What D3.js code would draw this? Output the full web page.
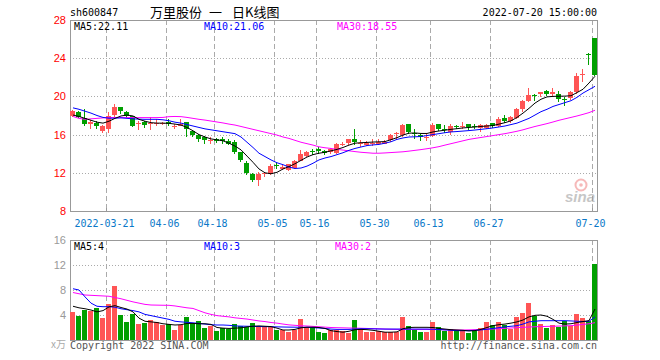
<!DOCTYPE html>
<html><head><meta charset="utf-8">
<script src="https://cdn.jsdelivr.net/npm/d3@7"></script>
<style>body{margin:0;background:#fff}svg{display:block}</style>
</head><body><svg id="c" width="660" height="360"></svg>
<script>
// ---------------- data ----------------
const dates = ["03-11","03-14","03-15","03-16","03-17","03-18","03-21","03-22","03-23","03-24","03-25","03-28","03-29","03-30","03-31",
"04-01","04-06","04-07","04-08","04-11","04-12","04-13","04-14","04-15","04-18","04-19","04-20","04-21","04-22","04-25","04-26","04-27","04-28","04-29",
"05-05","05-06","05-09","05-10","05-11","05-12","05-13","05-16","05-17","05-18","05-19","05-20","05-23","05-24","05-25","05-26","05-27","05-30","05-31",
"06-01","06-02","06-06","06-07","06-08","06-09","06-10","06-13","06-14","06-15","06-16","06-17","06-20","06-21","06-22","06-23","06-24","06-27","06-28","06-29","06-30",
"07-01","07-04","07-05","07-06","07-07","07-08","07-11","07-12","07-13","07-14","07-15","07-18","07-19","07-20"];
const open  = [18.0,18.4,17.7,17.1,17.2,16.4,16.6,18.1,18.9,18.4,17.9,17.1,17.3,17.15,17.1,17.2,17.3,16.8,16.9,17.3,16.4,15.95,15.7,15.35,15.5,15.5,15.3,15.2,14.15,13.0,11.85,11.25,11.85,11.85,12.85,12.4,12.3,12.55,13.25,13.8,14.25,14.45,14.3,14.2,14.1,15.0,15.15,15.5,15.0,14.9,15.1,15.05,15.05,15.4,16.15,15.95,17.1,16.15,15.95,15.75,15.9,17.1,16.55,16.3,16.85,16.85,17.1,16.85,16.65,16.7,17.2,16.9,17.7,17.45,17.7,18.7,19.55,20.15,20.2,20.55,20.2,20.25,19.75,19.8,20.45,22.25,24.45,26.15];
const close = [18.5,17.8,17.1,17.3,16.85,16.9,17.95,18.9,18.5,17.9,16.9,17.2,17.0,17.25,17.2,17.25,17.1,16.95,17.1,16.6,16.0,15.55,15.4,15.45,15.3,15.3,15.05,14.2,13.35,11.95,11.2,11.9,11.95,12.75,12.7,12.6,12.9,13.25,13.95,14.2,14.15,14.25,14.1,14.5,15.0,15.05,15.5,15.2,15.1,15.15,15.15,15.25,15.25,15.95,16.2,17.0,16.3,16.05,15.7,15.8,17.05,16.55,16.45,16.9,16.75,16.95,16.75,16.8,17.0,17.0,16.9,17.6,17.4,17.8,18.7,19.55,20.15,20.1,20.5,20.25,20.45,19.7,19.7,20.5,22.1,22.3,24.4,22.2];
const high  = [18.6,18.5,18.7,17.5,17.4,17.0,18.4,19.2,18.9,18.5,17.95,17.4,17.4,17.8,17.6,17.35,17.6,17.1,17.6,17.35,16.5,16.05,15.9,15.8,15.6,15.7,15.5,15.4,14.2,13.2,12.0,12.1,12.1,12.9,13.0,12.8,12.95,13.3,14.4,14.3,14.5,14.7,14.4,14.6,15.15,15.25,15.5,16.55,15.4,15.3,15.5,15.5,15.4,16.1,16.25,17.15,17.15,16.55,16.1,16.05,17.25,17.1,17.0,17.1,17.0,17.35,17.15,17.1,17.15,17.15,17.25,17.8,18.05,17.9,18.8,19.65,20.85,20.2,20.5,20.7,20.85,20.55,19.9,20.6,22.45,22.9,24.5,26.15];
const low   = [17.8,17.7,16.9,16.6,16.6,16.2,16.2,17.85,18.2,17.7,16.8,16.5,16.7,16.5,16.9,17.05,16.9,16.6,16.85,15.8,15.7,15.2,15.0,15.0,15.1,15.0,14.9,13.95,13.1,11.8,11.0,10.65,11.6,11.8,12.4,12.25,12.2,12.4,13.2,13.7,13.9,13.95,13.9,14.0,13.95,14.8,14.9,14.95,14.7,14.8,14.8,14.95,15.0,15.25,15.5,15.8,16.05,15.5,15.3,15.35,15.75,16.4,16.2,16.0,16.55,16.6,16.5,16.55,16.3,16.6,16.65,16.8,17.25,17.25,17.6,18.4,19.45,19.55,19.9,20.05,20.05,19.45,18.95,19.65,20.3,21.5,23.3,22.1];
const volume = [4.48,3.9,4.8,4.64,5.17,3.52,5.76,8.64,4.0,2.88,4.16,2.56,2.72,3.2,2.93,2.45,2.56,1.6,2.4,3.68,2.5,3.04,1.92,2.24,1.44,1.87,1.81,2.56,2.19,2.03,2.72,2.13,2.13,2.13,1.6,1.65,1.33,1.55,3.36,2.08,2.08,1.33,1.17,1.6,1.55,1.44,1.17,3.2,1.7,1.33,1.33,1.44,1.23,1.33,1.33,3.68,2.24,1.6,1.28,1.28,2.88,2.08,1.44,1.71,1.44,1.49,1.17,1.44,1.92,2.88,2.4,2.88,2.45,1.71,3.68,4.32,5.92,3.84,2.56,1.92,2.4,2.08,3.04,2.29,4.16,3.52,3.09,12.16];
const ma5  = [18.05,17.9,17.7,17.5,17.3,17.2,17.4,17.7,17.95,18.05,17.95,17.6,17.4,17.25,17.2,17.2,17.18,17.1,17.0,16.75,16.4,16.0,15.75,15.55,15.45,15.35,15.1,14.8,14.4,13.75,13.1,12.4,12.0,11.9,12.05,12.4,12.65,12.95,13.3,13.65,13.9,14.05,14.15,14.3,14.45,14.65,14.9,15.1,15.15,15.18,15.22,15.24,15.27,15.47,15.68,15.95,16.15,16.17,16.12,16.12,16.28,16.38,16.46,16.55,16.62,16.7,16.75,16.8,16.85,16.9,16.95,17.1,17.25,17.44,17.8,18.25,18.75,19.3,19.7,19.95,20.0,20.02,20.03,20.07,20.4,20.75,21.4,22.11];
const ma10 = [18.8,18.65,18.45,18.25,18.0,17.8,17.72,17.72,17.75,17.7,17.65,17.62,17.6,17.6,17.6,17.55,17.45,17.3,17.2,17.05,16.9,16.75,16.6,16.5,16.4,16.3,16.2,16.1,15.75,15.2,14.65,14.05,13.7,13.35,13.05,12.85,12.6,12.45,12.5,12.7,13.0,13.35,13.55,13.7,13.9,14.1,14.35,14.55,14.7,14.85,14.92,14.97,15.1,15.25,15.5,15.65,15.75,15.77,15.8,15.9,16.0,16.1,16.2,16.28,16.32,16.37,16.42,16.48,16.55,16.62,16.7,16.8,16.9,17.05,17.2,17.45,17.7,18.05,18.4,18.65,18.95,19.15,19.35,19.55,19.9,20.35,20.7,21.06];
const ma30 = [17.9,17.7,17.6,17.65,17.7,17.75,17.78,17.78,17.78,17.78,17.78,17.78,17.78,17.78,17.78,17.8,17.88,17.9,17.88,17.8,17.7,17.6,17.52,17.42,17.32,17.22,17.1,17.0,16.85,16.7,16.55,16.4,16.25,16.1,15.95,15.75,15.6,15.4,15.2,15.05,14.9,14.72,14.62,14.55,14.45,14.38,14.3,14.22,14.15,14.1,14.05,14.05,14.08,14.12,14.16,14.2,14.27,14.35,14.43,14.52,14.62,14.74,14.9,15.05,15.2,15.35,15.5,15.6,15.7,15.8,15.9,16.0,16.1,16.22,16.35,16.5,16.68,16.85,17.0,17.15,17.32,17.5,17.65,17.8,17.95,18.12,18.3,18.55];
const vma5  = [5.4,5.15,5.0,4.8,4.5,4.7,5.3,5.5,5.2,4.95,4.5,3.5,3.0,2.9,2.8,2.6,2.5,2.4,2.45,2.65,2.65,2.6,2.6,2.5,2.0,1.9,1.85,1.9,1.95,2.1,2.2,2.25,2.2,2.15,1.9,1.6,1.6,1.7,1.95,2.05,2.05,2.0,1.85,1.5,1.35,1.25,1.4,1.65,1.7,1.65,1.55,1.4,1.25,1.25,1.3,1.8,2.0,2.03,2.03,2.03,2.0,1.85,1.75,1.65,1.6,1.55,1.45,1.5,1.7,2.0,2.3,2.45,2.55,2.7,2.9,3.2,3.7,3.95,4.0,3.8,3.3,2.7,2.55,2.6,2.8,2.95,3.1,4.96];
const vma10 = [8.2,8.0,6.9,5.9,5.4,5.33,5.33,5.25,5.0,4.85,4.7,4.5,4.1,3.9,3.7,3.5,3.3,3.0,2.9,2.83,2.75,2.65,2.55,2.45,2.4,2.4,2.35,2.25,2.22,2.2,2.18,2.16,2.14,2.13,2.1,2.08,2.06,2.05,2.04,2.03,1.98,1.92,1.85,1.75,1.7,1.7,1.7,1.75,1.8,1.8,1.78,1.76,1.75,1.75,1.75,1.75,1.75,1.75,1.75,1.75,1.72,1.68,1.62,1.56,1.5,1.49,1.5,1.55,1.62,1.72,1.85,1.97,2.1,2.2,2.29,2.55,2.9,3.0,3.09,3.09,3.09,3.09,3.09,3.05,3.0,2.95,3.0,3.68];
const vma30 = [7.6,7.4,7.2,7.15,7.1,7.05,7.0,6.8,6.6,6.35,6.1,5.9,5.7,5.6,5.58,5.56,5.55,5.45,5.3,5.15,5.05,4.7,4.35,4.1,3.9,3.8,3.7,3.55,3.45,3.35,3.2,3.05,2.95,2.8,2.7,2.55,2.42,2.35,2.28,2.24,2.18,2.12,2.06,2.0,1.97,1.95,1.92,1.9,1.88,1.85,1.82,1.79,1.75,1.72,1.7,1.7,1.7,1.7,1.7,1.7,1.68,1.66,1.64,1.62,1.6,1.6,1.62,1.65,1.68,1.72,1.76,1.8,1.86,1.92,1.98,2.03,2.08,2.12,2.15,2.18,2.2,2.23,2.26,2.3,2.38,2.5,2.6,2.77];
const tickDates  = ["03-21","04-06","04-18","05-05","05-16","05-30","06-13","06-27","07-20"];
const tickLabels = ["2022-03-21","04-06","04-18","05-05","05-16","05-30","06-13","06-27","07-20"];
const priceTicks = [8,12,16,20,24,28];
const priceGrid  = [12,16,20,24];
const volTicks   = [4,8,12,16];
const volGrid    = [4,8,12];
const titleParts = ["万里股份", "一", "日K线图"];

// ---------------- drawing ----------------
const svg = d3.select("#c");
const L = 70, R = 597, PT = 20, PB = 211, VT = 240, VB = 340;
const RED = "#ff5555", GREEN = "#009f00";
const mono = "'DejaVu Sans Mono', monospace";
const sans = "'Liberation Sans', Arial, sans-serif";
const cjk = "'Noto Sans CJK SC', sans-serif";

const x = d3.scaleBand().domain(dates).range([L, R + 1]).paddingInner(1/6).paddingOuter(1/12);
const yP = d3.scaleLinear().domain([8, 28]).range([PB, PT]);
const yV = d3.scaleLinear().domain([0, 16]).range([VB, VT]);
const px = d => Math.floor(x(d));
const color = i => close[i] >= open[i] ? RED : GREEN;
const idx = d3.range(dates.length);

// header
svg.append("text").attr("x", L).attr("y", 16).attr("font-family", mono).attr("font-size", 10).attr("fill", "#000").text("sh600847");
[150, 209, 232].forEach((xx, k) => svg.append("text").attr("x", xx).attr("y", 17).attr("font-family", cjk)
  .attr("font-size", 13).attr("fill", "#000").text(titleParts[k]));
svg.append("text").attr("x", R).attr("y", 16).attr("text-anchor", "end").attr("font-family", mono).attr("font-size", 10).attr("fill", "#000").text("2022-07-20 15:00:00");

function panel(top, bottom, yScale, grid) {
  const g = svg.append("g").attr("shape-rendering", "crispEdges");
  g.selectAll(".hg").data(grid).join("line")
    .attr("x1", L).attr("x2", R).attr("y1", d => Math.round(yScale(d)) + 0.5).attr("y2", d => Math.round(yScale(d)) + 0.5)
    .attr("stroke", "#aaa").attr("stroke-dasharray", "1,2");
  g.selectAll(".vg").data(tickDates).join("line")
    .attr("x1", d => px(d) + 0.5).attr("x2", d => px(d) + 0.5).attr("y1", top).attr("y2", bottom)
    .attr("stroke", "#aaa").attr("stroke-dasharray", "5,3");
  g.append("rect").attr("x", L + 0.5).attr("y", top + 0.5).attr("width", R - L).attr("height", bottom - top)
    .attr("fill", "none").attr("stroke", "#999");
}
panel(PT, PB, yP, priceGrid);
panel(VT, VB, yV, volGrid);

// price y axis
const ay = svg.append("g").attr("transform", `translate(${L},0)`)
  .call(d3.axisLeft(yP).tickValues(priceTicks).tickSize(0).tickPadding(4).tickFormat(d3.format("d")));
ay.select(".domain").remove();
ay.selectAll("text").attr("fill", "#ff0000").attr("font-family", sans).attr("font-size", 11);

// volume y axis
const av = svg.append("g").attr("transform", `translate(${L},0)`)
  .call(d3.axisLeft(yV).tickValues(volTicks).tickSize(0).tickPadding(4).tickFormat(d3.format("d")));
av.select(".domain").remove();
av.selectAll("text").attr("fill", "#999").attr("font-family", sans).attr("font-size", 11);
svg.append("text").attr("x", 66).attr("y", 348).attr("text-anchor", "end").attr("font-family", cjk)
  .attr("font-size", 10).attr("fill", "#aaa").text("x万");

// x axis
const ax = svg.append("g").attr("transform", `translate(0,${PB})`)
  .call(d3.axisBottom(x).tickValues(tickDates).tickSize(-3).tickPadding(9)
    .tickFormat((d, i) => tickLabels[i]));
ax.select(".domain").remove();
ax.selectAll(".tick").attr("transform", d => `translate(${px(d) + 0.5},0)`);
ax.selectAll("line").attr("stroke", "#999").attr("shape-rendering", "crispEdges");
ax.selectAll("text").attr("fill", "#0a78c8").attr("font-family", mono).attr("font-size", 10).attr("dx", -2);

// candles
const cg = svg.append("g").attr("shape-rendering", "crispEdges");
cg.selectAll(".wick").data(idx).join("line")
  .attr("x1", i => px(dates[i]) + 2.5).attr("x2", i => px(dates[i]) + 2.5)
  .attr("y1", i => yP(high[i])).attr("y2", i => yP(low[i]))
  .attr("stroke", i => color(i));
cg.selectAll(".body").data(idx).join("rect")
  .attr("x", i => px(dates[i])).attr("width", x.bandwidth())
  .attr("y", i => yP(Math.max(open[i], close[i])))
  .attr("height", i => Math.max(1, Math.abs(yP(open[i]) - yP(close[i]))))
  .attr("fill", i => color(i));

// volume bars
cg.selectAll(".vol").data(idx).join("rect")
  .attr("x", i => px(dates[i])).attr("width", x.bandwidth())
  .attr("y", i => yV(volume[i])).attr("height", i => yV(0) - yV(volume[i]))
  .attr("fill", i => color(i));

// MA lines
function maLine(arr, yScale, col) {
  const line = d3.line().x((v, i) => x(dates[i]) + x.bandwidth() / 2).y(v => yScale(v));
  svg.append("path").datum(arr).attr("d", line).attr("fill", "none").attr("stroke", col).attr("stroke-width", 1);
}
maLine(ma30, yP, "#ff00ff");
maLine(ma10, yP, "#0000ff");
maLine(ma5, yP, "#000000");
maLine(vma30, yV, "#ff00ff");
maLine(vma10, yV, "#0000ff");
maLine(vma5, yV, "#000000");

// legends
function legend(y, items) {
  items.forEach(([tx, xx, col]) => svg.append("text").attr("x", xx).attr("y", y).attr("font-family", mono)
    .attr("font-size", 10).attr("fill", col).text(tx));
}
legend(30, [["MA5:22.11", 74, "#000"], ["MA10:21.06", 204, "#0000ff"], ["MA30:18.55", 337, "#ff00ff"]]);
legend(250, [["MA5:4", 74, "#000"], ["MA10:3", 204, "#0000ff"], ["MA30:2", 335, "#ff00ff"]]);

// footer
svg.append("text").attr("x", L).attr("y", 349).attr("font-family", mono).attr("font-size", 10).attr("fill", "#555").text("Copyright 2022 SINA.COM");
svg.append("text").attr("x", R).attr("y", 349).attr("text-anchor", "end").attr("font-family", mono).attr("font-size", 10).attr("fill", "#555").text("http://finance.sina.com.cn");

// sina watermark
const wm = svg.append("g").attr("opacity", 0.55);
wm.append("circle").attr("cx", 581).attr("cy", 185).attr("r", 5.5).attr("fill", "none").attr("stroke", "#f08080").attr("stroke-width", 2);
wm.append("circle").attr("cx", 581).attr("cy", 185).attr("r", 1.8).attr("fill", "#f08080");
wm.append("text").attr("x", 565).attr("y", 202).attr("font-family", sans).attr("font-style", "italic").attr("font-weight", "bold")
  .attr("font-size", 15).attr("fill", "#999").text("sina");
</script>
</body></html>
